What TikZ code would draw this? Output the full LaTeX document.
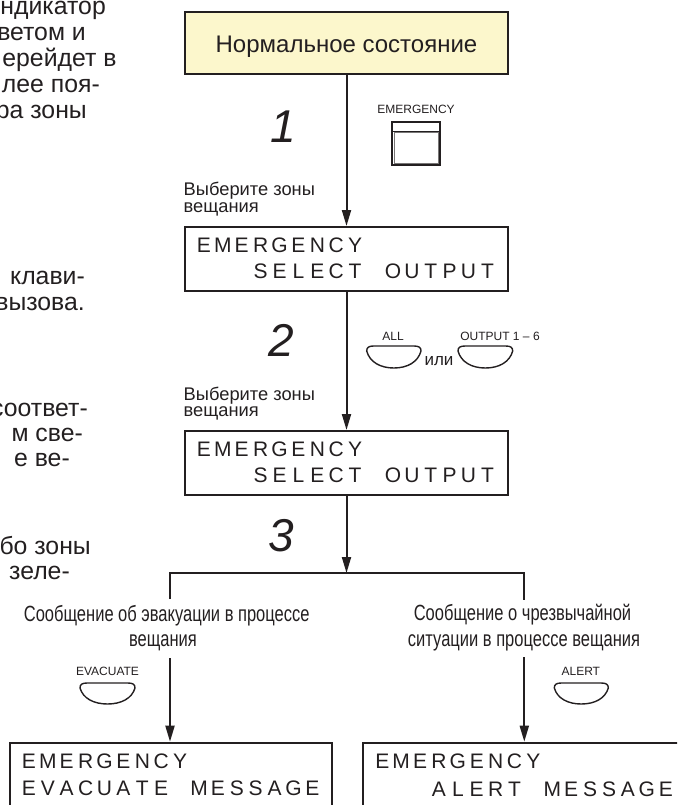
\documentclass[tikz,border=0pt]{standalone}
\usepackage{fontspec}
\setmainfont{Liberation Sans}
\newfontfamily\narrowfont[FakeStretch=0.75]{Liberation Sans}
\usetikzlibrary{arrows.meta}
\definecolor{ink}{RGB}{35,31,32}
\definecolor{keygray}{RGB}{120,118,118}
\definecolor{paleyellow}{RGB}{252,247,204}
\newlength\lcdpitch
\setlength\lcdpitch{18.9pt}
\makeatletter
\def\lcdtext#1{\lcd@step#1\relax}
\def\lcd@step#1{\ifx#1\relax\else\ifx#1.\hbox to\lcdpitch{}\else\hbox to\lcdpitch{\hss#1\hss}\fi\expandafter\lcd@step\fi}
\makeatother
\newcommand\keycap[4]{%
 \draw[btn] (#1,#3+5) .. controls (#1,#3+1.5) and (#1+2,#3) .. (#1+7,#3) -- (#2-7,#3)
  .. controls (#2-2,#3) and (#2,#3+1.5) .. (#2,#3+5)
  .. controls (#2-3,{#3+5+0.65*(#4-#3-5)}) and ({(#1+#2)/2+0.5*(#2-#1)/2},#4) .. ({(#1+#2)/2},#4)
  .. controls ({(#1+#2)/2-0.5*(#2-#1)/2},#4) and (#1+3,{#3+5+0.65*(#4-#3-5)}) .. cycle;}
\begin{document}
\begin{tikzpicture}[x=1pt,y=-1pt,
  every node/.style={inner sep=0pt, text=ink},
  box/.style={draw=ink, line width=2pt, minimum width=323pt, minimum height=64pt},
  lcd/.style={font=\fontsize{21}{21}\selectfont, anchor=west},
  conn/.style={draw=ink, line width=2pt},
  arr/.style={conn, -{Triangle[length=16pt,width=9pt]}},
  btn/.style={draw=ink, line width=1.4pt},
  keylbl/.style={font=\fontsize{12}{12}\selectfont, anchor=base},
  hint/.style={font=\fontsize{18.3}{18}\selectfont, anchor=base west},
  numlbl/.style={font=\fontsize{46}{46}\selectfont\itshape, anchor=base},
  frag/.style={font=\fontsize{24.8}{26}\selectfont, anchor=base east},
  branch/.style={font=\fontsize{22}{25}\narrowfont, anchor=base}]
\useasboundingbox (0,0) rectangle (677,805);
\clip (0,0) rectangle (677,805);

% cut-off text column on the left
\node[frag] (f1) at (106,15) {ндикатор};
\node[frag] (f2) at (86,41) {ветом и};
\node[frag] (f3) at (116.7,67) {ерейдет в};
\node[frag] (f4) at (100,93) {лее поя-};
\node[frag] (f5) at (87,119) {ра зоны};
\node[frag] (f6) at (85,284) {клави-};
\node[frag] (f7) at (85,310) {вызова.};
\node[frag] (f8) at (88,416) {соответ-};
\node[frag] (f9) at (83,441) {м све-};
\node[frag] (f10) at (70,466) {е ве-};
\node[frag] (f11) at (91,554) {бо зоны};
\node[frag] (f12) at (70,579) {зеле-};

% normal state
\node[box, fill=paleyellow, minimum height=62pt] (normal) at (346.5,43) {};
\node[anchor=base, font=\fontsize{24}{24}\selectfont] (normaltxt) at (346.5,53) {Нормальное состояние};

% step 1
\node[numlbl] (n1) at (283,143) {1};
\node[keylbl] (emlbl) at (416,113.3) {EMERGENCY};
\draw[btn, line width=1.8pt] (392,122.3) rectangle (440,165);
\draw[keygray, line width=0.8pt] (394,132) rectangle (438,163);
\draw[btn, line width=1.1pt] (392,131.7) -- (440,131.7);
\node[hint] (h1a) at (183.5,196) {Выберите зоны};
\node[hint] (h1b) at (183.5,212.5) {вещания};

\node[box] (sel1) at (346.5,259) {};
\node[lcd] (sel1a) at (194.3,245) {\lcdtext{EMERGENCY}};
\node[lcd] (sel1b) at (194.3,271.7) {\lcdtext{...SELECT.OUTPUT}};
\draw[arr] (normal.south) -- (sel1.north);

% step 2
\node[numlbl] (n2) at (281.7,356.7) {2};
\node[keylbl] (alllbl) at (393,340) {ALL};
\keycap{366.7}{421}{346}{368}
\node[anchor=base, font=\fontsize{17}{17}\selectfont] (ili) at (439,365) {или};
\node[keylbl] (outlbl) at (500,340) {OUTPUT 1 – 6};
\keycap{458}{512.7}{346}{368}
\node[hint] (h2a) at (183.5,400) {Выберите зоны};
\node[hint] (h2b) at (183.5,416.5) {вещания};

\node[box] (sel2) at (346.5,463) {};
\node[lcd] (sel2a) at (194.3,449) {\lcdtext{EMERGENCY}};
\node[lcd] (sel2b) at (194.3,475.7) {\lcdtext{...SELECT.OUTPUT}};
\draw[arr] (sel1.south) -- (sel2.north);

% step 3
\node[numlbl] (n3) at (281.7,551) {3};
\coordinate (split) at (346.5,573);
\coordinate (splitL) at (170,573);
\coordinate (splitR) at (524.3,573);
\coordinate (legL) at (170,599);
\coordinate (legR) at (524.3,600);
\draw[arr] (sel2.south) -- (split);
\draw[conn] (legL) -- (splitL) -- (splitR) -- (legR);

\node[branch] (evA) at (166.7,621) {Сообщение об эвакуации в процессе};
\node[branch] (evB) at (163,646) {вещания};
\node[branch] (alA) at (522.5,620) {Сообщение о чрезвычайной};
\node[branch] (alB) at (524,646) {ситуации в процессе вещания};

\node[keylbl] (evlbl) at (107.5,675.7) {EVACUATE};
\keycap{80}{135}{683}{704}
\node[keylbl] (allbl) at (580.8,675.7) {ALERT};
\keycap{554.3}{608.3}{683}{704}

\node[box, minimum width=321.7pt] (evac) at (170.85,774.7) {};
\node[lcd] (evaca) at (19.3,761.7) {\lcdtext{EMERGENCY}};
\node[lcd] (evacb) at (19.3,788.3) {\lcdtext{EVACUATE.MESSAGE}};
\node[box, minimum width=322pt] (alert) at (524.3,774.7) {};
\node[lcd] (alerta) at (372.6,761.7) {\lcdtext{EMERGENCY}};
\node[lcd] (alertb) at (372.6,789) {\lcdtext{...ALERT.MESSAGE}};

\coordinate (evStart) at (170,658);
\coordinate (alStart) at (524.3,657);
\draw[arr] (evStart) -- (evStart |- evac.north);
\draw[arr] (alStart) -- (alStart |- alert.north);
\end{tikzpicture}
\end{document}
